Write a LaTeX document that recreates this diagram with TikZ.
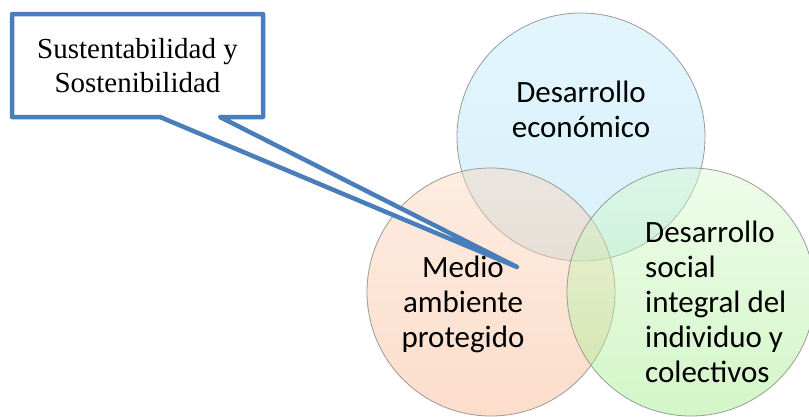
\documentclass[tikz,border=0pt]{standalone}
\usepackage{fontspec}
\setmainfont{Carlito}
\newfontfamily\calloutfont{Liberation Serif}
\definecolor{callblue}{HTML}{4A7EBB}
\definecolor{ringgray}{HTML}{9A9A9A}
\definecolor{bluetop}{HTML}{BFE9FA}
\definecolor{bluebot}{HTML}{A9E0F6}
\definecolor{peachtop}{HTML}{FBD6BE}
\definecolor{peachbot}{HTML}{F8B48A}
\definecolor{greentop}{HTML}{DAFAD0}
\definecolor{greenbot}{HTML}{9DEB84}
\tikzset{
  ring/.style={circle, draw=ringgray, line width=0.8pt, minimum size=248pt, inner sep=0pt, fill opacity=0.45},
  ringtext/.style={font=\fontsize{31}{35}\selectfont, inner sep=0pt, anchor=base},
  callout/.style={draw=callblue, line width=4.5pt, line join=round, fill=white},
  callouttext/.style={font=\calloutfont\fontsize{29}{34}\selectfont, align=center, inner sep=0pt, anchor=base}
}
\begin{document}
\begin{tikzpicture}[x=1pt, y=-1pt]
\useasboundingbox (0,0) rectangle (809,416);
% circles
\node[ring, top color=bluetop, bottom color=bluebot] (eco) at (581,137) {};
\node[ring, top color=peachtop, bottom color=peachbot] (amb) at (491,292) {};
\node[ring, top color=greentop, bottom color=greenbot] (soc) at (691,292) {};
% circle texts (anchored at the baseline of the last line)
\node[ringtext, align=center] (ecotxt) at (581,137) {Desarrollo\\económico};
\node[ringtext, align=center] (ambtxt) at (463,347) {Medio\\ambiente\\protegido};
\node[ringtext, align=left, anchor=base west] (soctxt) at (645,382) {Desarrollo\\social\\integral del\\individuo y\\colectivos};
% callout
\coordinate (tip) at (517,267);
\draw[callout] (12,14) -- (263,14) -- (263,117) -- (220,117) -- (tip) -- (160,117) -- (12,117) -- cycle;
\node[callouttext] (calltxt) at (137.5,92) {Sustentabilidad y\\Sostenibilidad};
\end{tikzpicture}
\end{document}
